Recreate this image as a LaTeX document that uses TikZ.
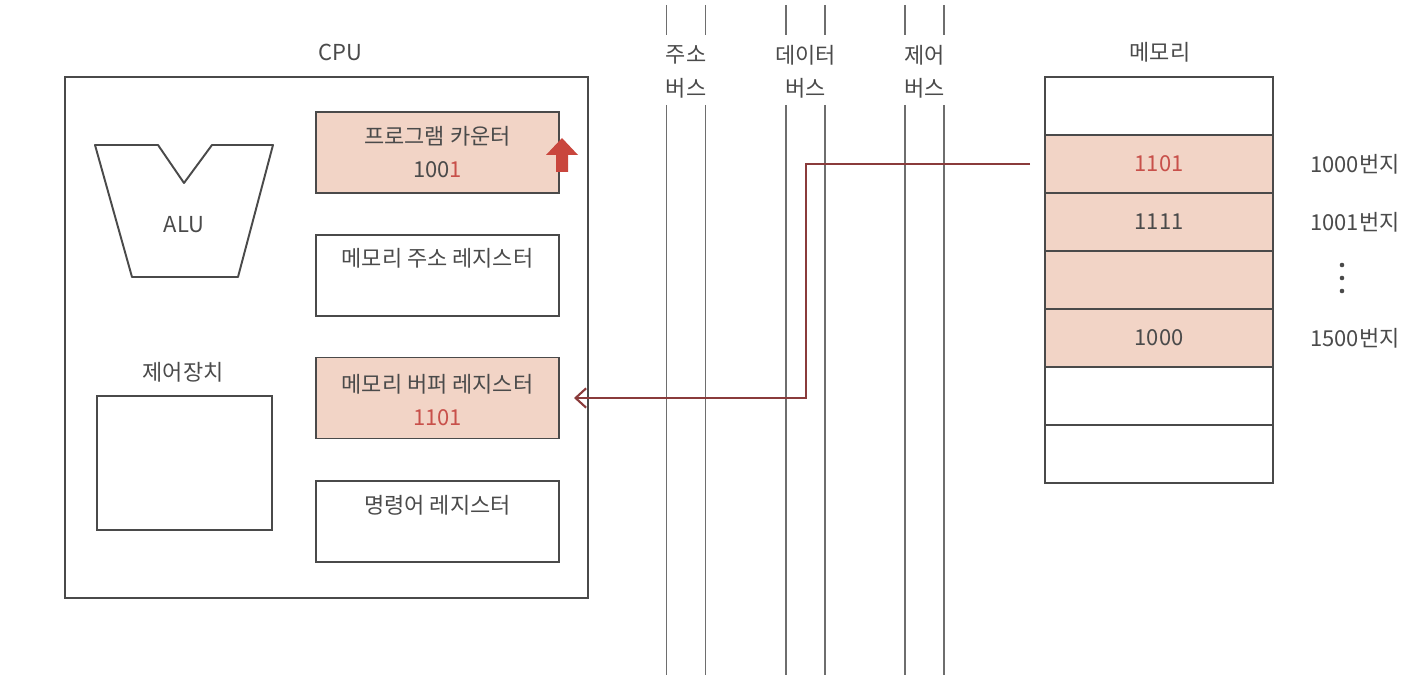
\documentclass[tikz,border=0pt]{standalone}
\usepackage{fontspec}
\setmainfont{Noto Sans CJK KR}
\usetikzlibrary{arrows.meta}

\definecolor{inkgray}{HTML}{4A4A4A}
\definecolor{peach}{HTML}{F2D4C6}
\definecolor{redtext}{HTML}{C8504A}
\definecolor{wire}{HTML}{8A3B3B}
\definecolor{uparrow}{HTML}{C9463D}

\tikzset{
  box/.style={draw=inkgray, line width=1.1pt, rectangle, inner sep=0pt},
  reg/.style={box, minimum width=4.86cm, minimum height=1.62cm},
  cell/.style={box, minimum width=4.56cm, minimum height=1.16cm},
  lbl/.style={text=inkgray, font=\fontsize{12.5}{14}\selectfont, inner sep=1pt},
  bus/.style={draw=inkgray!80, line width=1pt},
}

\begin{document}
\begin{tikzpicture}[x=0.02cm, y=-0.02cm]
  \useasboundingbox (0,0) rectangle (1424,692);

  %CPU
  \node[lbl] (cpulbl) at (340,52) {CPU};
  \node[box, minimum width=10.46cm, minimum height=10.42cm] (cpu) at (326.5,337.5) {};

  %ALU
  \coordinate (aluA) at (95,145);
  \coordinate (aluB) at (158,145);
  \coordinate (aluC) at (184,183);
  \coordinate (aluD) at (212,145);
  \coordinate (aluE) at (273,145);
  \coordinate (aluF) at (238,277);
  \coordinate (aluG) at (132,277);
  \draw[inkgray, line width=1.1pt, line join=round] (aluA) -- (aluB) -- (aluC) -- (aluD) -- (aluE) -- (aluF) -- (aluG) -- cycle;
  \node[lbl] (alu) at (184,225) {ALU};

  %control unit
  \node[lbl] (ctrllbl) at (183,372) {제어장치};
  \node[box, minimum width=3.5cm, minimum height=2.68cm] (ctrl) at (184.5,463) {};

  %registers
  \node[reg, fill=peach] (pc) at (437.5,152.5) {};
  \node[lbl] (pcname) at (437.5,136) {프로그램 카운터};
  \node[lbl] (pcval) at (437.5,170) {100\textcolor{redtext}{1}};

  \node[reg] (mar) at (437.5,275.5) {};
  \node[lbl] (marname) at (437.5,258) {메모리 주소 레지스터};

  \node[reg, fill=peach] (mbr) at (437.5,398) {};
  \node[lbl] (mbrname) at (437.5,384) {메모리 버퍼 레지스터};
  \node[lbl, text=redtext] (mbrval) at (437.5,418) {1101};

  \node[reg] (ir) at (437.5,521.5) {};
  \node[lbl] (irname) at (437.5,505) {명령어 레지스터};

  %increment arrow
  \fill[uparrow] (556,172) -- (568,172) -- (568,155) -- (578,155) -- (562,138) -- (546,155) -- (556,155) -- cycle;

  %buses
  \foreach \x/\n/\a in {686/addr/주소, 805.5/data/데이터, 924.5/ctrlbus/제어}{
    \node[lbl] (\n top) at (\x,55) {\a};
    \node[lbl] (\n bot) at (\x,88) {버스};
    \draw[bus] (\x-19.5,5) -- (\x-19.5,35);
    \draw[bus] (\x+19.5,5) -- (\x+19.5,35);
    \draw[bus] (\x-19.5,105) -- (\x-19.5,675);
    \draw[bus] (\x+19.5,105) -- (\x+19.5,675);
  }

  %memory
  \node[lbl] (memlbl) at (1160,52) {메모리};
  \foreach \i in {0,...,6}{
    \node[cell] (cell\i) at (1159,106+58*\i) {};
  }
  \foreach \i in {1,...,4}{
    \node[cell, fill=peach] at (cell\i) {};
  }
  \node[lbl, text=redtext] (v1) at (cell1) {1101};
  \node[lbl] (v2) at (cell2) {1111};
  \node[lbl] (v4) at (cell4) {1000};

  \node[lbl] (a1) at (1355,164) {1000번지};
  \node[lbl] (a2) at (1355,222) {1001번지};
  \foreach \y in {265,278,291}
    \fill[inkgray] (1342,\y) circle (1.3pt);
  \node[lbl] (a4) at (1355,338) {1500번지};

  %transfer
  \coordinate (turn) at (806,164);
  \draw[wire, line width=1.2pt, shorten <=8pt, shorten >=8pt, -{Straight Barb[length=6pt, width=11pt]}]
    (cell1.west) -- (turn) |- (mbr.east);

\end{tikzpicture}
\end{document}
